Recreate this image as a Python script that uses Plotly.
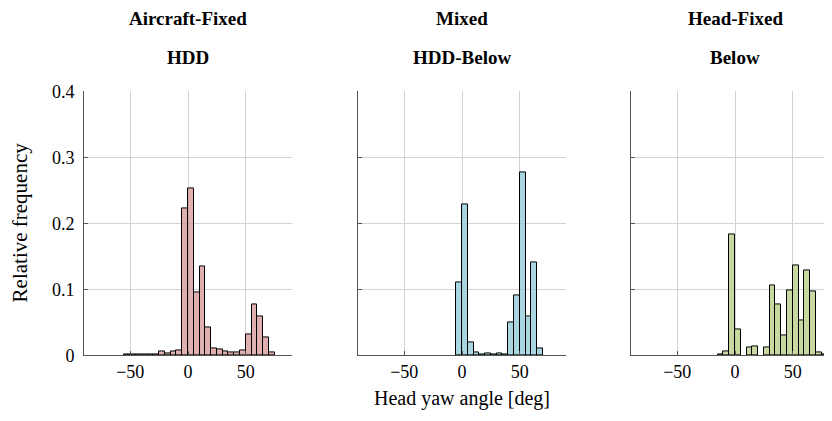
import plotly.graph_objects as go

# ---- data (relative frequency per 5-degree bin; bin start values) ----
bins_af = [-55, -50, -45, -40, -35, -30, -25, -20, -15, -10, -5, 0, 5, 10, 15, 20, 25, 30, 35, 40, 45, 50, 55, 60, 65, 70]
vals_af = [0.0008, 0.0008, 0.0008, 0.0008, 0.0008, 0.002, 0.0055, 0.0025, 0.0065, 0.0075, 0.222, 0.2526, 0.0961, 0.1348,
           0.0428, 0.010, 0.0086, 0.0055, 0.004, 0.004, 0.007, 0.031, 0.0775, 0.0594, 0.0277, 0.004]

bins_mx = [-5, 0, 5, 10, 15, 20, 25, 30, 35, 40, 45, 50, 55, 60, 65]
vals_mx = [0.110, 0.2294, 0.020, 0.005, 0.001, 0.0035, 0.001, 0.003, 0.002, 0.050, 0.0906, 0.2767, 0.0594, 0.1414, 0.010]

bins_hf = [-15, -10, -5, 0, 10, 15, 25, 30, 35, 40, 45, 50, 55, 60, 65, 70, 75]
vals_hf = [0.002, 0.0065, 0.184, 0.040, 0.0116, 0.0136, 0.012, 0.1067, 0.0775, 0.0307, 0.098, 0.1369, 0.0528,
           0.1293, 0.0976, 0.004, 0.0008]

titles_top = ["Aircraft-Fixed", "Mixed", "Head-Fixed"]
titles_bottom = ["HDD", "HDD-Below", "Below"]
colors = ["rgba(214,150,150,0.75)", "rgba(140,200,214,0.75)", "rgba(180,204,130,0.75)"]
y_ticks = [0, 0.1, 0.2, 0.3, 0.4]
y_labels = ["0", "0.1", "0.2", "0.3", "0.4"]
x_ticks = [-50, 0, 50]
BIN_W = 5

# page has an 8px body margin; figure is sized so the page is exactly 832x421
W, H = 816, 405
OFF_X = 8
PAPER_TOP, PAPER_H = 17, 388  # observed page position / height of the paper area


def fx(px):
    return (px - OFF_X) / W


def fy(py):
    return 1 - (py - PAPER_TOP) / PAPER_H


FONT = "Liberation Serif, Times New Roman, serif"

PW = 208  # panel width in px for range [-90, 90]
px_x = [(84, 84 + PW), (358, 358 + PW), (631, OFF_X + W)]
y_top, y_bot = 91, 357
x_ranges = [[-90, 90], [-90, 90], [-90, -90 + (px_x[2][1] - px_x[2][0]) / (PW / 180)]]

fig = go.Figure()
datasets = [(bins_af, vals_af), (bins_mx, vals_mx), (bins_hf, vals_hf)]
for i, (b, v) in enumerate(datasets):
    xa = "x" if i == 0 else f"x{i+1}"
    ya = "y" if i == 0 else f"y{i+1}"
    fig.add_trace(go.Bar(
        x=[s + BIN_W / 2 for s in b], y=v, width=BIN_W,
        marker=dict(color=colors[i], line=dict(color="black", width=1)),
        xaxis=xa, yaxis=ya, showlegend=False,
    ))

layout = dict(
    width=W, height=H,
    margin=dict(l=0, r=0, t=0, b=0),
    paper_bgcolor="white", plot_bgcolor="white",
    font=dict(family=FONT, size=18, color="black"),
    bargap=0,
)
ydom = [fy(y_bot), fy(y_top)]
for i in range(3):
    sfx = "" if i == 0 else str(i + 1)
    xdom = [fx(px_x[i][0]), min(1.0, fx(px_x[i][1]))]
    layout["xaxis" + sfx] = dict(
        domain=xdom, range=x_ranges[i], anchor="y" + sfx,
        tickvals=x_ticks, showgrid=True, gridcolor="#d3d3d3", gridwidth=1,
        zeroline=False, showline=True, linecolor="#555555", linewidth=1,
        ticks="inside", ticklen=4, tickcolor="#555555",
        tickfont=dict(family=FONT, size=18), fixedrange=True,
    )
    layout["yaxis" + sfx] = dict(
        domain=ydom, range=[0, 0.4], anchor="x" + sfx,
        tickvals=y_ticks, ticktext=y_labels if i == 0 else [""] * 5,
        showticklabels=(i == 0), ticklabelstandoff=5,
        showgrid=True, gridcolor="#d3d3d3", gridwidth=1,
        zeroline=False, showline=True, linecolor="#555555", linewidth=1,
        ticks="inside", ticklen=4, tickcolor="#555555",
        tickfont=dict(family=FONT, size=18), fixedrange=True,
    )

annotations = []
for i in range(3):
    cx = fx(px_x[i][0] + PW / 2)
    annotations.append(dict(text="<b>" + titles_top[i] + "</b>", x=cx, y=fy(17), xref="paper", yref="paper",
                            showarrow=False, font=dict(family=FONT, size=19), xanchor="center", yanchor="middle"))
    annotations.append(dict(text="<b>" + titles_bottom[i] + "</b>", x=cx, y=fy(57), xref="paper", yref="paper",
                            showarrow=False, font=dict(family=FONT, size=19), xanchor="center", yanchor="middle"))
annotations.append(dict(text="Head yaw angle [deg]", x=fx(461.5), y=fy(400), xref="paper", yref="paper",
                        showarrow=False, font=dict(family=FONT, size=20), xanchor="center", yanchor="middle"))
annotations.append(dict(text="Relative frequency", x=fx(20), y=fy(223), xref="paper", yref="paper",
                        showarrow=False, textangle=-90, font=dict(family=FONT, size=21), xanchor="center",
                        yanchor="middle"))
layout["annotations"] = annotations

fig.update_layout(**layout)
fig.write_html("out.html")
